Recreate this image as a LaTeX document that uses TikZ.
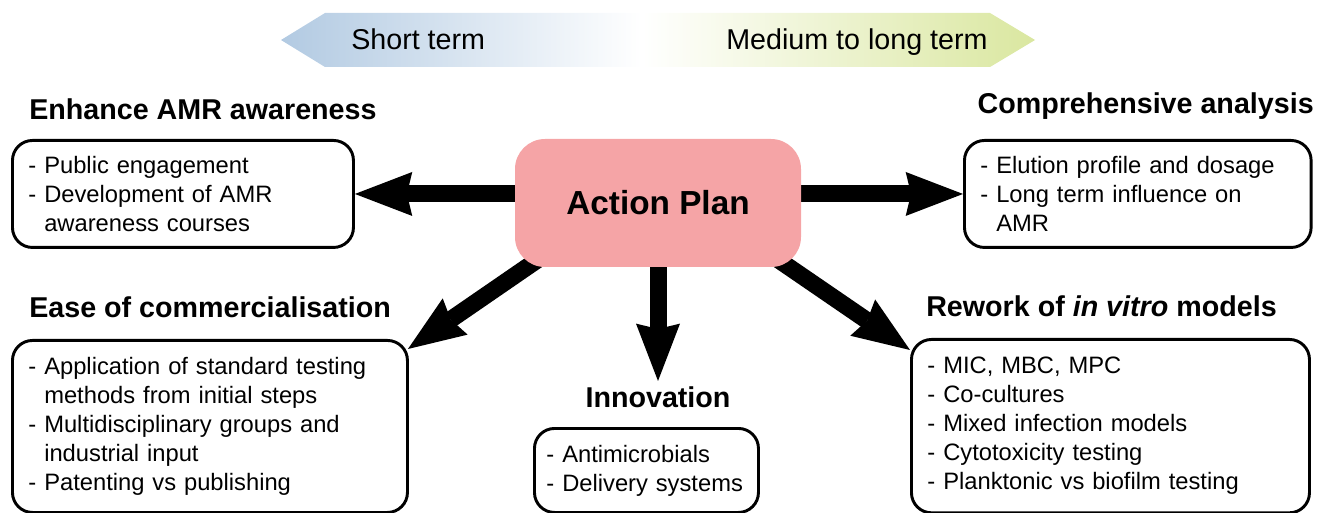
\documentclass[tikz,border=0pt]{standalone}
\usepackage{fontspec}
\setmainfont{Liberation Sans}
\usepackage{tikz}
\usepackage{xcolor}
\usetikzlibrary{arrows.meta,calc,backgrounds}

\definecolor{planpink}{RGB}{245,164,166}
\definecolor{shortblue}{RGB}{178,202,226}
\definecolor{longgreen}{RGB}{218,231,160}

\begin{document}
\begin{tikzpicture}[x=0.75pt,y=0.75pt,yscale=-1,xscale=1,
        listbox/.style={draw,line width=2.2pt,rounded corners=15pt,anchor=north west,align=left,
                inner xsep=12pt,inner ysep=0pt,font={\fontsize{17.8}{21.75}\selectfont}},
        headtext/.style={inner sep=0.75pt,font={\bfseries\fontsize{21.5}{26}\selectfont}},
        termtext/.style={inner sep=0.75pt,anchor=base west,font={\fontsize{21.5}{26}\selectfont}},
        bigarrow/.style={line width=12.75pt,-{Stealth[length=43pt,width=33pt,inset=4pt,line width=0pt]}}]
        \useasboundingbox (0,0) rectangle (1318,513);

        %Shape: Arrow left, short term
        \shade[left color=shortblue,right color=white] (281,40) -- (325,13) -- (642,13) -- (642,67) -- (325,67) -- cycle ;
        %Shape: Arrow right, medium to long term
        \shade[left color=white,right color=longgreen] (642,13) -- (990,13) -- (1035,40) -- (990,67) -- (642,67) -- cycle ;
        % Text Node
        \node[termtext] (shortlbl) at (350,50) {Short term};
        % Text Node
        \node[termtext] (longlbl) at (725,50) {Medium to long term};

        % Centre
        \node[fill=planpink,rounded corners=22.5pt,minimum width=214.5pt,minimum height=96pt,
                font={\bfseries\fontsize{25}{30}\selectfont}] (plan) at (658,203) {Action Plan};

        % Headings
        \node[headtext,anchor=base west] (awarehead) at (28,120) {Enhance AMR awareness};
        \node[headtext,anchor=base east] (analyhead) at (1315,114) {Comprehensive analysis};
        \node[headtext,anchor=base west] (commhead) at (28,318) {Ease of commercialisation};
        \node[headtext,anchor=base west] (vitrohead) at (925,317) {Rework of \textit{in vitro} models};
        \node[headtext,anchor=base] (innovhead) at (658,407) {Innovation};

        % Boxes
        \node[listbox,minimum width=255.75pt,minimum height=80.25pt,text width=231.75pt] (awarebox) at (11,139)
                {- Public engagement\\- Development of AMR\\\hphantom{- }awareness courses};
        \node[listbox,minimum width=260pt,minimum height=80.25pt,text width=236pt] (analybox) at (963,139)
                {- Elution profile and dosage\\- Long term influence on\\\hphantom{- }AMR};
        \node[listbox,minimum width=296.25pt,minimum height=129pt,text width=272.25pt] (commbox) at (11,339)
                {- Application of standard testing\\\hphantom{- }methods from initial steps\\- Multidisciplinary groups and\\\hphantom{- }industrial input\\- Patenting vs publishing};
        \node[listbox,inner xsep=9pt,minimum width=168pt,minimum height=63pt,text width=150pt] (innovbox) at (533,427)
                {- Antimicrobials\\- Delivery systems};
        \node[listbox,minimum width=298.5pt,minimum height=130pt,text width=274.5pt] (vitrobox) at (910,338)
                {- MIC, MBC, MPC\\- Co-cultures\\- Mixed infection models\\- Cytotoxicity testing\\- Planktonic vs biofilm testing};

        % Arrows
        \begin{scope}[on background layer]
                \draw[bigarrow,shorten <=-10pt] (plan.west |- awarebox.east) -- (awarebox.east) ;
                \draw[bigarrow,shorten <=-10pt] (plan.east |- analybox.west) -- (analybox.west) ;
                \draw[bigarrow,shorten <=-10pt,shorten >=3pt] (plan.south) -- (innovhead.north) ;
                \draw[bigarrow,shorten <=-20pt] ($(plan.south west)+(12,0)$) -- ($(commbox.north east)+(-1,10)$) ;
                \draw[bigarrow,shorten <=-20pt] ($(plan.south east)+(-12,0)$) -- ($(vitrobox.north west)+(0,12)$) ;
        \end{scope}

\end{tikzpicture}
\end{document}
